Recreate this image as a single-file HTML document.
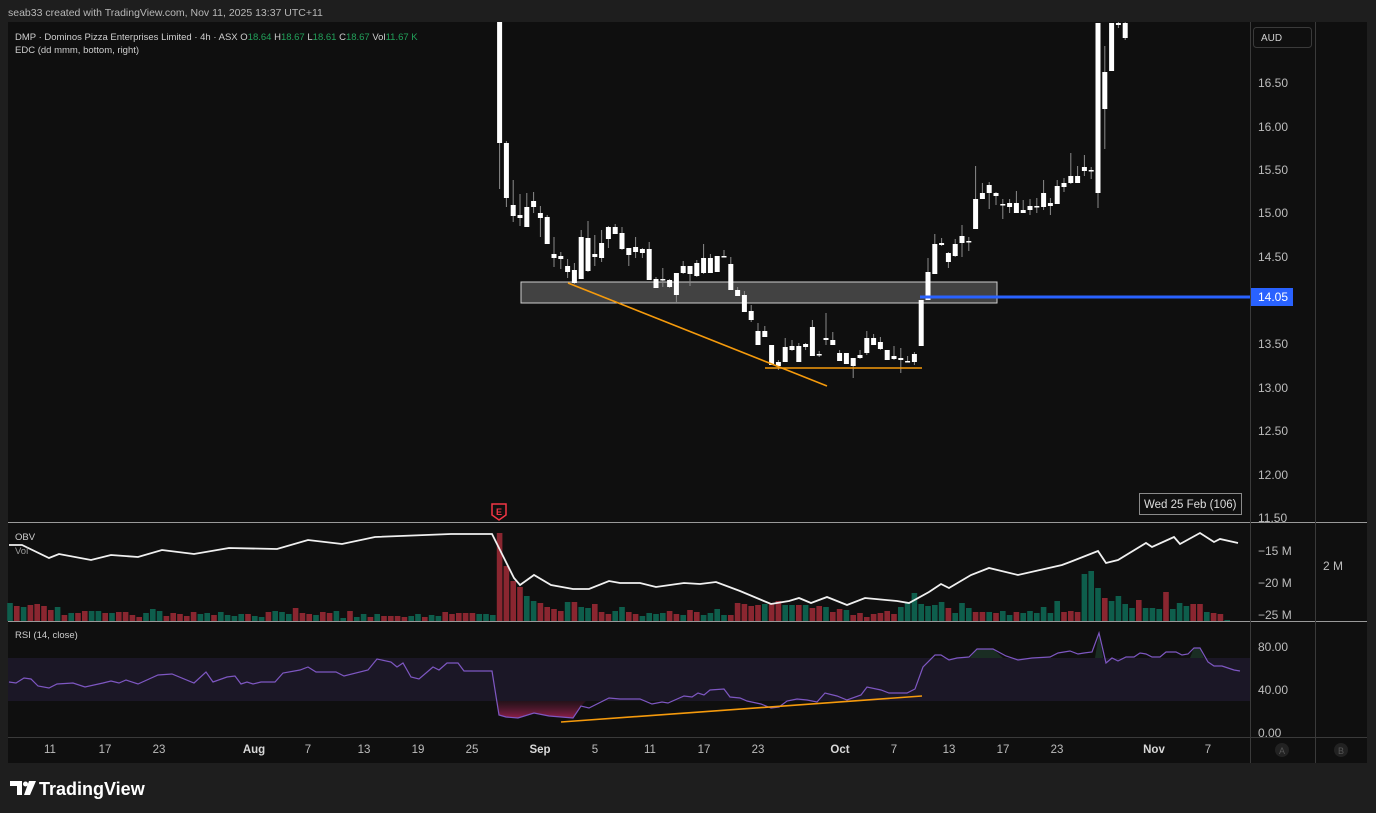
<!DOCTYPE html>
<html><head><meta charset="utf-8"><style>
html,body{margin:0;padding:0;background:#1e1e1e;width:1376px;height:813px;overflow:hidden}
svg{display:block}
text{font-family:"Liberation Sans",sans-serif}
</style></head><body>
<svg id="s" width="1376" height="813" xmlns="http://www.w3.org/2000/svg">
<rect x="0" y="0" width="1376" height="813" fill="#1e1e1e"/>
<rect x="8" y="22" width="1359" height="741" fill="#0f0f0f"/>
<text x="8" y="16" font-size="10.5" fill="#b8b8b8">seab33 created with TradingView.com, Nov 11, 2025 13:37 UTC+11</text>
<rect x="8" y="658" width="1242" height="43" fill="#1b1726"/>
<g id="vol"></g>
<rect x="521" y="282" width="476" height="21" fill="#484848" fill-opacity="0.9" stroke="#cfcfcf" stroke-width="1"/>
<g id="cnd"></g>
<line x1="920" y1="297" x2="1250" y2="297" stroke="#2962ff" stroke-width="3"/>
<line x1="568" y1="283" x2="827" y2="386" stroke="#f59a0c" stroke-width="1.6"/>
<line x1="765" y1="368" x2="922" y2="368" stroke="#f59a0c" stroke-width="1.6"/>
<g id="lines"></g>
<line x1="561" y1="722" x2="922" y2="696" stroke="#f59a0c" stroke-width="1.6"/>
<text x="15" y="40" font-size="9.5" fill="#cfcfcf">DMP · Dominos Pizza Enterprises Limited · 4h · ASX <tspan>O</tspan><tspan fill="#22a05a">18.64</tspan>  H<tspan fill="#22a05a">18.67</tspan>  L<tspan fill="#22a05a">18.61</tspan>  C<tspan fill="#22a05a">18.67</tspan>  Vol<tspan fill="#22a05a">11.67 K</tspan></text>
<text x="15" y="53" font-size="9.5" fill="#cfcfcf">EDC (dd mmm, bottom, right)</text>
<text x="15" y="540" font-size="9.5" fill="#cfcfcf">OBV</text>
<text x="15" y="554" font-size="9.5" fill="#9a9a9a">Vol</text>
<text x="15" y="638" font-size="9.5" fill="#cfcfcf">RSI (14, close)</text>
<line x1="8" y1="522.5" x2="1367" y2="522.5" stroke="#9a9a9a" stroke-width="1"/>
<line x1="8" y1="621.5" x2="1367" y2="621.5" stroke="#9a9a9a" stroke-width="1"/>
<line x1="8" y1="737.5" x2="1367" y2="737.5" stroke="#3a3a3a" stroke-width="1"/>
<line x1="1250.5" y1="22" x2="1250.5" y2="763" stroke="#3a3a3a"/>
<line x1="1315.5" y1="22" x2="1315.5" y2="763" stroke="#3a3a3a"/>
<path d="M492 504 h14 v11 l-7 5 l-7 -5 z" fill="#0f0f0f" stroke="#f23645" stroke-width="1.5"/>
<text x="499" y="515" font-size="9" fill="#f23645" text-anchor="middle" font-weight="bold">E</text>
<rect x="1253.5" y="27.5" width="58" height="20" rx="3" fill="none" stroke="#3a3a3a"/>
<text x="1261" y="41" font-size="10" fill="#cfcfcf">AUD</text>
<g font-size="12" fill="#bdbdbd">
<text x="1258" y="87">16.50</text><text x="1258" y="131">16.00</text><text x="1258" y="174">15.50</text>
<text x="1258" y="217">15.00</text><text x="1258" y="261">14.50</text><text x="1258" y="348">13.50</text>
<text x="1258" y="392">13.00</text><text x="1258" y="435">12.50</text><text x="1258" y="479">12.00</text>
<text x="1258" y="522">11.50</text>
<text x="1258" y="555">−15 M</text><text x="1258" y="587">−20 M</text><text x="1258" y="619">−25 M</text>
<text x="1323" y="570">2 M</text>
<text x="1258" y="651">80.00</text><text x="1258" y="694">40.00</text><text x="1258" y="737">0.00</text>
</g>
<rect x="1251" y="288" width="42" height="18" fill="#2962ff"/>
<text x="1258" y="301" font-size="12" fill="#ffffff">14.05</text>
<rect x="1139.5" y="493.5" width="102" height="21" fill="#0f0f0f" stroke="#8a8a8a"/>
<text x="1144" y="508" font-size="11.5" fill="#dddddd">Wed 25 Feb (106)</text>
<g font-size="11.5" fill="#bdbdbd" text-anchor="middle">
<text x="50" y="753">11</text><text x="105" y="753">17</text><text x="159" y="753">23</text>
<text x="254" y="753" font-weight="bold" fill="#d8d8d8">Aug</text><text x="308" y="753">7</text><text x="364" y="753">13</text>
<text x="418" y="753">19</text><text x="472" y="753">25</text><text x="540" y="753" font-weight="bold" fill="#d8d8d8">Sep</text>
<text x="595" y="753">5</text><text x="650" y="753">11</text><text x="704" y="753">17</text><text x="758" y="753">23</text>
<text x="840" y="753" font-weight="bold" fill="#d8d8d8">Oct</text><text x="894" y="753">7</text><text x="949" y="753">13</text>
<text x="1003" y="753">17</text><text x="1057" y="753">23</text><text x="1154" y="753" font-weight="bold" fill="#d8d8d8">Nov</text>
<text x="1208" y="753">7</text>
</g>
<circle cx="1282" cy="750" r="7" fill="#222"/><text x="1282" y="754" font-size="9" fill="#555" text-anchor="middle">A</text>
<circle cx="1341" cy="750" r="7" fill="#222"/><text x="1341" y="754" font-size="9" fill="#555" text-anchor="middle">B</text>
<path d="M10 781 h12 v14 h-5 v-9 h-7 z" fill="#fff"/><circle cx="25.5" cy="784" r="2.5" fill="#fff"/><path d="M29 781 h7 l-6 14 h-6 z" fill="#fff"/>
<text x="39" y="795" font-size="18" font-weight="bold" fill="#ffffff">TradingView</text>
</svg>
<script>
var NS="http://www.w3.org/2000/svg";
function el(p,t,a){var e=document.createElementNS(NS,t);for(var k in a)e.setAttribute(k,a[k]);p.appendChild(e);return e;}
function X(i){return 10+6.8*i;}
var C=[[72,22,143,22,189],[73,143,198,141,207],[74,205,216,180,222],[75,215,218,194,226],[76,207,227,193,227],[77,201,207,192,213],[78,213,218,206,237],[79,217,244,215,244],[80,254,258,237,267],[81,256,259,252,269],[82,266,272,259,278],[83,270,283,263,284],[84,237,279,230,279],[85,238,271,221,272],[86,254,257,235,266],[87,243,258,230,262],[88,227,239,226,248],[89,227,234,224,234],[90,233,249,227,250],[91,248,255,248,266],[92,247,252,237,258],[93,249,253,248,258],[94,249,280,242,280],[95,279,288,277,288],[96,279,280,268,287],[97,280,287,279,288],[98,273,295,273,303],[99,266,273,261,274],[100,266,274,266,286],[101,263,276,260,277],[102,258,273,244,274],[103,258,273,254,273],[104,256,272,256,272],[105,256,257,250,257],[106,264,290,257,290],[107,290,296,287,296],[108,295,312,291,312],[109,311,320,305,322],[110,331,345,323,345],[111,331,337,326,337],[112,345,365,345,365],[113,362,366,360,370],[114,347,362,338,362],[115,346,350,340,351],[116,346,362,343,362],[117,344,347,343,350],[118,327,356,320,356],[119,354,355,351,357],[120,338,340,313,345],[121,340,345,332,345],[122,353,361,350,361],[123,353,364,353,364],[124,358,366,358,378],[125,355,358,350,359],[126,338,353,331,355],[127,338,345,334,345],[128,342,349,337,350],[129,350,360,350,360],[130,356,359,346,360],[131,358,360,348,373],[132,361,362,356,362],[133,354,362,352,365],[134,300,346,300,346],[135,272,300,258,300],[136,244,274,234,274],[137,243,245,238,246],[138,253,262,252,268],[139,244,256,239,257],[140,236,243,225,257],[141,241,242,237,251],[142,199,229,166,229],[143,193,199,183,199],[144,185,193,182,209],[145,193,196,192,205],[146,204,205,199,219],[147,203,207,199,213],[148,203,213,191,213],[149,210,213,200,213],[150,206,210,199,215],[151,206,207,198,213],[152,193,207,180,210],[153,203,206,198,215],[154,186,204,180,204],[155,183,187,178,192],[156,176,183,153,184],[157,176,183,166,183],[158,167,171,155,176],[159,170,171,167,179],[160,23,193,23,208],[161,72,109,46,149],[162,23,71,23,71],[163,23,25,22,28],[164,23,38,22,40]];
var g=document.getElementById("cnd");
C.forEach(function(c){var x=X(c[0]);
el(g,"line",{x1:x,x2:x,y1:c[3],y2:c[4],stroke:"#8a8a8a","stroke-width":1});
el(g,"rect",{x:x-2.5,y:c[1],width:5,height:Math.max(1.5,c[2]-c[1]),fill:"#ffffff"});});
var V=[[18,1],[15,0],[14,1],[16,0],[17,0],[15,0],[11,0],[14,1],[6,0],[8,1],[8,0],[10,0],[10,1],[10,1],[8,0],[8,1],[9,0],[9,0],[6,0],[4,0],[8,1],[12,1],[10,1],[5,0],[8,0],[7,0],[5,0],[9,0],[7,1],[8,1],[6,0],[9,1],[6,1],[5,1],[7,1],[7,0],[5,1],[4,1],[9,0],[10,1],[9,1],[7,1],[13,0],[8,0],[7,0],[6,1],[9,0],[8,0],[10,1],[3,1],[10,0],[4,1],[7,1],[4,0],[7,1],[5,0],[5,0],[5,0],[4,0],[5,1],[7,1],[4,0],[6,1],[5,1],[9,0],[7,0],[8,0],[8,0],[8,0],[7,1],[7,1],[6,1],[88,0],[55,0],[40,0],[34,0],[25,1],[20,1],[18,0],[14,0],[12,0],[10,0],[19,1],[19,0],[14,1],[13,1],[17,0],[9,0],[7,0],[10,1],[14,1],[9,0],[7,0],[5,1],[8,1],[7,1],[8,1],[10,0],[7,0],[6,1],[11,0],[9,0],[6,1],[8,1],[12,1],[6,1],[6,0],[18,0],[17,0],[15,0],[16,0],[17,1],[17,0],[20,0],[16,1],[16,1],[16,0],[16,1],[13,0],[15,0],[14,1],[9,0],[12,0],[11,1],[6,0],[8,0],[4,0],[7,0],[8,0],[10,0],[7,0],[14,1],[19,1],[28,1],[17,1],[15,1],[16,1],[19,1],[13,0],[8,1],[18,1],[13,1],[9,0],[9,0],[9,1],[8,0],[10,1],[6,1],[9,0],[8,1],[10,1],[8,1],[14,1],[8,1],[20,1],[9,0],[10,0],[9,0],[47,1],[50,1],[33,1],[23,0],[20,1],[25,1],[17,1],[13,1],[21,0],[13,1],[13,1],[12,1],[29,0],[12,1],[18,1],[15,1],[17,0],[17,0],[9,1],[8,0],[7,0],[1,1]];
var gv=document.getElementById("vol");
V.forEach(function(v,i){var x=X(i);el(gv,"rect",{x:x-2.8,y:621-v[0],width:5.6,height:v[0],fill:v[1]?"#0e5e4c":"#8a2630"});});
var OBV="9,545 22,545 49,558 59,554 91,560 111,555 138,557 162,550 194,554 229,548 277,549 308,540 342,544 375,537 451,534 492,534 514,578 520,585 534,575 551,585 573,589 589,589 609,581 620,583 640,583 656,587 684,583 700,584 716,582 740,591 771,604 789,601 799,598 811,603 827,597 847,605 865,598 897,601 909,603 929,592 941,584 949,588 971,575 989,568 1018,575 1062,565 1070,562 1098,551 1106,563 1118,560 1146,543 1152,547 1174,537 1180,544 1200,533 1214,542 1220,539 1238,543";
var RSI="9,682 16,683 24,678 31,679 38,686 49,688 57,684 73,683 85,687 103,683 111,681 119,683 126,680 138,684 158,675 172,674 194,683 206,672 213,682 227,677 235,676 241,684 247,682 253,684 261,682 275,682 283,673 300,670 308,667 316,672 336,672 344,676 368,670 377,659 391,662 397,667 403,663 411,677 419,679 433,667 439,670 447,663 458,663 464,671 492,671 499,715 506,717 518,718 534,713 549,716 573,718 581,706 589,708 609,698 620,699 640,699 652,704 662,702 668,703 684,696 692,697 698,693 704,695 710,690 724,689 730,697 740,698 747,701 761,704 771,708 779,707 787,701 797,699 807,700 817,702 825,693 837,696 847,700 861,695 867,687 881,690 889,693 907,693 915,689 923,667 935,655 941,655 949,660 957,658 969,657 977,649 993,649 1006,656 1018,660 1032,658 1050,657 1058,653 1070,651 1078,654 1084,653 1092,652 1099,633 1106,663 1112,658 1118,661 1126,657 1134,657 1140,653 1146,654 1152,657 1160,657 1166,652 1176,652 1182,655 1188,654 1194,648 1200,648 1208,662 1214,666 1222,666 1234,670 1240,671";
var gl=document.getElementById("lines");
var d=el(gl,"defs",{});var lg=el(d,"linearGradient",{id:"rg",x1:0,y1:0,x2:0,y2:1});
el(lg,"stop",{offset:"0","stop-color":"#5a1a33","stop-opacity":"0.3"});el(lg,"stop",{offset:"1","stop-color":"#b0245a","stop-opacity":"0.8"});
el(gl,"polygon",{points:"497,701 499,715 506,717 518,718 534,713 549,716 573,718 581,706 586,701",fill:"url(#rg)"});
el(gl,"polygon",{points:"970,658 977,649 993,649 1003,658",fill:"#1f3a2c","fill-opacity":"0.7"});
el(gl,"polygon",{points:"1095,658 1099,633 1103,658",fill:"#1f3a2c","fill-opacity":"0.7"});
el(gl,"polygon",{points:"1190,658 1194,648 1200,648 1204,658",fill:"#1f3a2c","fill-opacity":"0.7"});
el(gl,"polyline",{points:OBV,fill:"none",stroke:"#f0f0f0","stroke-width":1.8});
el(gl,"polyline",{points:RSI,fill:"none",stroke:"#7e57c2","stroke-width":1.2});
</script>
</body></html>
